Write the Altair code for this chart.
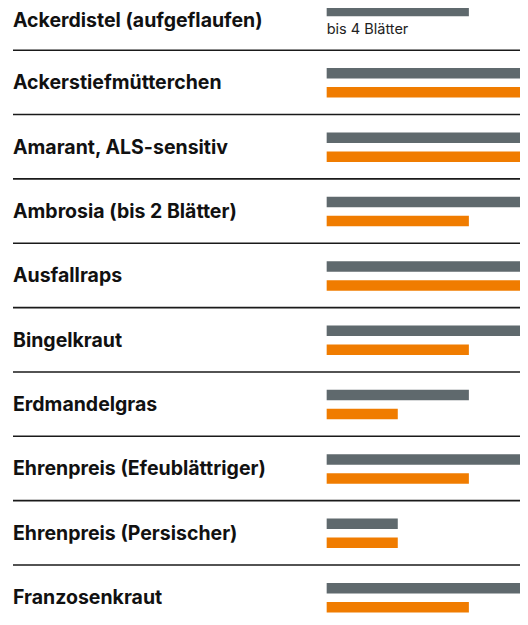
import altair as alt
import pandas as pd

weeds = [
    "Ackerdistel (aufgeflaufen)",
    "Ackerstiefmütterchen",
    "Amarant, ALS-sensitiv",
    "Ambrosia (bis 2 Blätter)",
    "Ausfallraps",
    "Bingelkraut",
    "Erdmandelgras",
    "Ehrenpreis (Efeublättriger)",
    "Ehrenpreis (Persischer)",
    "Franzosenkraut",
]
gray_values = [2, 3, 3, 3, 3, 3, 2, 3, 1, 3]
orange_values = [None, 3, 3, 2, 3, 2, 1, 2, 1, 2]
notes = ["bis 4 Blätter", "", "", "", "", "", "", "", "", ""]

df = pd.DataFrame({
    "row": list(range(len(weeds))),
    "weed": weeds,
    "gray": gray_values,
    "orange": orange_values,
    "note": notes,
})

W, H = 512, 609
GRAY = "#5f696d"
ORANGE = "#f07c00"

xs = alt.Scale(domain=[-4.482, 2.719], clamp=True, nice=False, zero=False)
ys = alt.Scale(domain=[-0.1554, 9.308], reverse=True, nice=False, zero=False)

base = alt.Chart(df)


def label_layer(filter_expr, offset):
    return base.transform_filter(filter_expr).mark_text(
        align="left", baseline="alphabetic", font="Inter", fontWeight="bold",
        fontSize=19.5, color="#111111"
    ).encode(
        x=alt.value(5),
        y=alt.Y("row:Q", scale=ys, axis=None),
        yOffset=alt.value(offset),
        text="weed:N",
    )


labels_first = label_layer("datum.row == 0", 8.5)
labels_rest = label_layer("datum.row > 0", 7)

seps = base.transform_filter("datum.row < 9").transform_calculate(
    sep="datum.row + 0.5"
).mark_rule(color="#1a1a1a", strokeWidth=1.6).encode(
    x=alt.value(5), x2=alt.value(W),
    y=alt.Y("sep:Q", scale=ys, axis=None),
)

gray_first = base.transform_filter("datum.row == 0").transform_calculate(g0="0").mark_rule(
    color=GRAY, strokeWidth=10.5, strokeCap="butt"
).encode(
    x=alt.X("g0:Q", scale=xs, axis=None), x2="gray:Q",
    y=alt.Y("row:Q", scale=ys, axis=None),
    yOffset=alt.value(-7),
)

gray_rest = base.transform_filter("datum.row > 0").transform_calculate(g0="0").mark_rule(
    color=GRAY, strokeWidth=10.5, strokeCap="butt"
).encode(
    x=alt.X("g0:Q", scale=xs, axis=None), x2="gray:Q",
    y=alt.Y("row:Q", scale=ys, axis=None),
    yOffset=alt.value(-9),
)

orange = base.transform_filter("datum.orange != null").transform_calculate(g0="0").mark_rule(
    color=ORANGE, strokeWidth=10.5, strokeCap="butt"
).encode(
    x=alt.X("g0:Q", scale=xs, axis=None), x2="orange:Q",
    y=alt.Y("row:Q", scale=ys, axis=None),
    yOffset=alt.value(10),
)

note_text = base.transform_filter("datum.note != ''").transform_calculate(g0="0").mark_text(
    align="left", baseline="alphabetic", font="Inter", fontSize=14.5, color="#222222"
).encode(
    x=alt.X("g0:Q", scale=xs, axis=None),
    y=alt.Y("row:Q", scale=ys, axis=None),
    yOffset=alt.value(16),
    text="note:N",
)

chart = alt.layer(
    seps, gray_first, gray_rest, orange, note_text, labels_first, labels_rest
).properties(
    width=W, height=H, padding=0, autosize=alt.AutoSizeParams(type="none")
).configure_view(stroke=None)

chart.save("out.html", embed_options={"renderer": "svg", "actions": False})
